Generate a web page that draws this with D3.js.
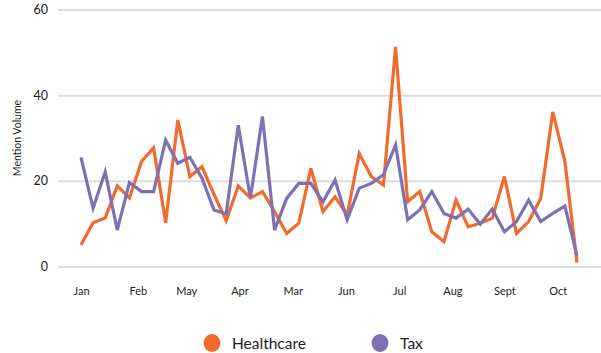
<!DOCTYPE html>
<html>
<head>
<meta charset="utf-8">
<script src="https://cdn.jsdelivr.net/npm/d3@7"></script>
<style>
  body { margin: 0; background: #fff; }
  text { font-family: Lato, "Open Sans", sans-serif; fill: #222; }
</style>
</head>
<body>
<div id="chart"></div>
<script>
// chart values
var healthcare = [5.0, 10.2, 11.3, 18.8, 16.0, 24.5, 27.7, 10.2, 34.2, 21.0,
    23.3, 16.8, 10.7, 18.8, 16.0, 17.5, 12.8, 7.7, 10.1, 22.9,
    12.8, 16.3, 12.0, 26.4, 21.0, 19.0, 51.3, 15.1, 17.5, 8.1,
    5.8, 15.5, 9.3, 10.1, 11.3, 21.0, 7.7, 10.5, 15.9, 36.1,
    24.5, 0.9];
var tax = [25.5, 13.6, 22.1, 8.5, 19.6, 17.5, 17.5, 29.5, 24.1, 25.5,
    20.6, 13.2, 12.3, 33.0, 16.0, 35.0, 8.5, 15.9, 19.4, 19.4,
    15.1, 20.2, 10.9, 18.3, 19.4, 21.4, 28.4, 10.9, 13.2, 17.5,
    12.4, 11.3, 13.4, 9.9, 13.4, 8.1, 10.5, 15.5, 10.5, 12.4,
    14.1, 2.5];
var monthLabels = ["Jan", "Feb", "May", "Apr", "Mar", "Jun", "Jul", "Aug", "Sept", "Oct"];
// where each month label sits, in data-point index units
var monthAt = [0, 4.7, 8.7, 13.1, 17.5, 21.9, 26.3, 30.7, 35.0, 39.4];
var yTicks = [0, 20, 40, 60];
var seriesNames = ["Healthcare", "Tax"];
var seriesColors = ["#f26a2e", "#7e70b3"];

var svgWidth = 601;
var svgHeight = 353;

var svg = d3.select("#chart")
    .append("svg")
    .attr("width", svgWidth)
    .attr("height", svgHeight);

// scales
var xScale = d3.scaleLinear()
    .domain([0, healthcare.length - 1])
    .range([81, 577]);

var yScale = d3.scaleLinear()
    .domain([0, 60])
    .range([266.5, 9.5]);

// gridlines + y labels
var yAxis = d3.axisLeft(yScale)
    .tickValues(yTicks)
    .tickSize(-(svgWidth - 58))
    .tickPadding(10);

var yG = svg.append("g")
    .attr("transform", "translate(58,0)")
    .call(yAxis);
yG.select(".domain").remove();
yG.selectAll(".tick line")
    .attr("stroke", "#dcdcdc")
    .attr("stroke-width", 2);
yG.selectAll(".tick text")
    .style("font-family", "Lato, sans-serif")
    .style("font-size", "12.5px")
    .attr("fill", "#222");

// x labels
var xAxis = d3.axisBottom(xScale)
    .tickValues(monthAt)
    .tickFormat(function (d, i) { return monthLabels[i]; })
    .tickSize(0)
    .tickPadding(0);
var xG = svg.append("g")
    .attr("transform", "translate(0,287)")
    .call(xAxis);
xG.select(".domain").remove();
xG.selectAll(".tick text")
    .style("font-family", "Lato, sans-serif")
    .style("font-size", "11px")
    .attr("fill", "#222");

// y axis title
svg.append("text")
    .attr("transform", "translate(21,138) rotate(-90)")
    .attr("text-anchor", "middle")
    .style("font-size", "10.5px")
    .text("Mention Volume");

// lines
var line = d3.line()
    .x(function (d, i) { return xScale(i); })
    .y(function (d) { return yScale(d); });

[healthcare, tax].forEach(function (series, k) {
    svg.append("path")
        .datum(series)
        .attr("fill", "none")
        .attr("stroke", seriesColors[k])
        .attr("stroke-width", 3.2)
        .attr("stroke-linejoin", "miter")
        .attr("d", line);
});

// legend
var legendX = [212, 380];
seriesNames.forEach(function (name, k) {
    svg.append("ellipse")
        .attr("cx", legendX[k])
        .attr("cy", 343)
        .attr("rx", 8.5)
        .attr("ry", 9)
        .attr("fill", seriesColors[k]);
    svg.append("text")
        .attr("x", legendX[k] + 20)
        .attr("y", 349)
        .style("font-size", "15.5px")
        .text(name);
});
</script>
</body>
</html>
